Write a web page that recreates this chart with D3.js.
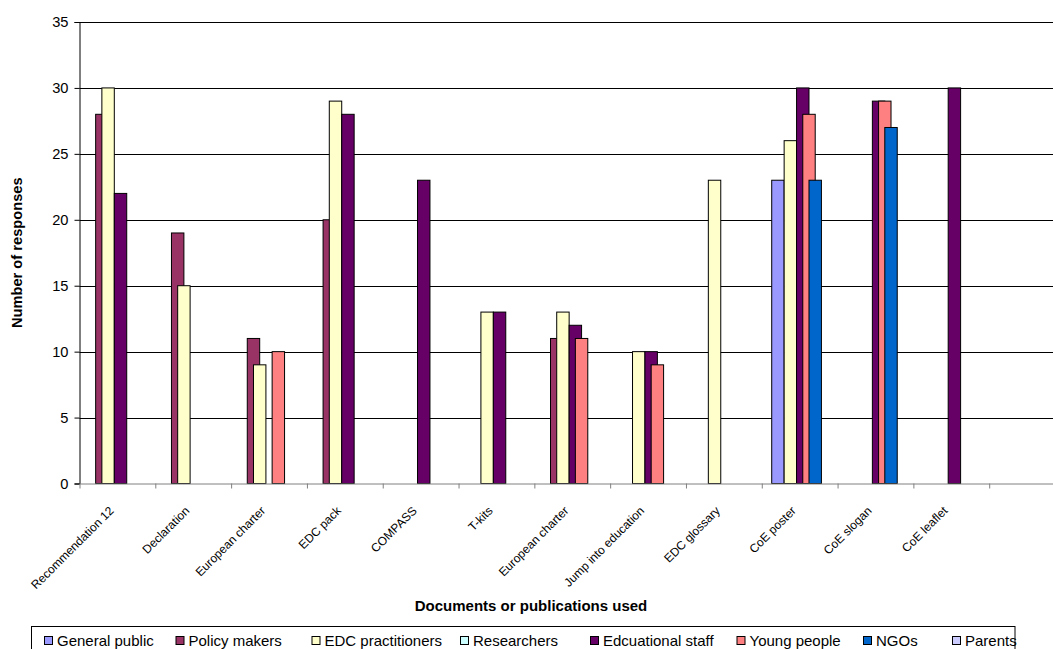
<!DOCTYPE html>
<html><head><meta charset="utf-8">
<script src="https://cdn.jsdelivr.net/npm/d3@7"></script>
<style>body{margin:0;background:#fff} svg{display:block;font-family:"Liberation Sans",Arial,sans-serif}</style>
</head><body><svg id="c" width="1053" height="649"></svg>
<script>
const categories = ["Recommendation 12","Declaration","European charter","EDC pack","COMPASS","T-kits","European charter","Jump into education","EDC glossary","CoE poster","CoE slogan","CoE leaflet",""];
const seriesNames = ["General public","Policy makers","EDC practitioners","Researchers","Edcuational staff","Young people","NGOs","Parents"];
const seriesColors = ["#9999FF","#993366","#FFFFCC","#CCFFFF","#660066","#FF8080","#0066CC","#CCCCFF"];
const generalPublic    = [null,null,null,null,null,null,null,null,null,23,null,null,null];
const policyMakers     = [28,19,11,20,null,null,11,null,null,null,null,null,null];
const edcPractitioners = [30,15,9,29,null,13,13,10,23,26,null,null,null];
const researchers      = [null,null,null,null,null,null,null,null,null,null,null,null,null];
const educationalStaff = [22,null,null,28,23,13,12,10,null,30,29,30,null];
const youngPeople      = [null,null,10,null,null,null,11,9,null,28,29,null,null];
const ngos             = [null,null,null,null,null,null,null,null,null,23,27,null,null];
const parents          = [null,null,null,null,null,null,null,null,null,null,null,null,null];
const yTicks = [0,5,10,15,20,25,30,35];
const yTitle = "Number of responses";
const xTitle = "Documents or publications used";

const seriesValues = [generalPublic,policyMakers,edcPractitioners,researchers,educationalStaff,youngPeople,ngos,parents];

const svg = d3.select("#c");
const pLeft = 79.5, pTop = 22, pBottom = 483.5, pRight = 1065;
const x = d3.scaleBand().domain(d3.range(categories.length)).range([pLeft, pRight]).padding(0);
const y = d3.scaleLinear().domain([0, 35]).range([pBottom, pTop]);

// gridlines
svg.append("g").selectAll("line").data(yTicks.filter(d => d > 0)).join("line")
  .attr("x1", pLeft).attr("x2", 1053).attr("y1", d => Math.round(y(d)) + 0.5).attr("y2", d => Math.round(y(d)) + 0.5)
  .attr("stroke", "#000").attr("stroke-width", 1);

// bars
const bw = x.bandwidth();
const barW = bw / 6.1;
const step = barW / 2;
const gap = 1.6 * barW;
const barData = [];
seriesValues.forEach((vals, s) => vals.forEach((v, i) => { if (v != null) barData.push({s, i, v}); }));
svg.append("g").selectAll("rect").data(barData).join("rect")
  .attr("x", d => x(d.i) + gap / 2 + d.s * step)
  .attr("y", d => y(d.v))
  .attr("width", barW)
  .attr("height", d => y(0) - y(d.v))
  .attr("fill", d => seriesColors[d.s])
  .attr("stroke", "#000").attr("stroke-width", 1);

// y axis
const yAxis = svg.append("g").attr("transform", `translate(${pLeft},0)`)
  .call(d3.axisLeft(y).tickValues(yTicks).tickSize(5).tickPadding(6).tickFormat(d3.format("d")));
yAxis.select(".domain").attr("stroke", "#000");
yAxis.selectAll(".tick line").attr("stroke", "#000");
yAxis.selectAll("text").attr("font-size", "14.67px").attr("fill", "#000").attr("font-family", "Liberation Sans, Arial, sans-serif");

// x axis
const xAxis = svg.append("g").attr("transform", `translate(0,${pBottom})`)
  .call(d3.axisBottom(x).tickValues([]).tickSizeOuter(0));
xAxis.select(".domain").attr("stroke", "#808080");
svg.append("g").selectAll("line").data(d3.range(categories.length)).join("line")
  .attr("x1", d => x(d) + 0.5).attr("x2", d => x(d) + 0.5).attr("y1", pBottom).attr("y2", pBottom + 5)
  .attr("stroke", "#808080");

// x labels
svg.append("g").selectAll("text").data(categories.map((c, i) => ({c, i}))).join("text")
  .attr("transform", d => `translate(${x(d.i) + bw / 2 - 3},${pBottom + 28}) rotate(-45)`)
  .attr("text-anchor", "end").attr("font-size", "12px").attr("fill", "#000")
  .text(d => d.c);

// titles
svg.append("text").attr("transform", `translate(22,${(pTop + pBottom) / 2}) rotate(-90)`)
  .attr("text-anchor", "middle").attr("font-weight", "bold").attr("font-size", "14.67px").text(yTitle);
svg.append("text").attr("x", 531).attr("y", 611)
  .attr("text-anchor", "middle").attr("font-weight", "bold").attr("font-size", "15px").text(xTitle);

// legend
const legendX = [44, 175.5, 311.5, 460, 590, 736.5, 863, 952];
svg.append("rect").attr("x", 31.5).attr("y", 626.5).attr("width", 983.5).attr("height", 40)
  .attr("fill", "#fff").attr("stroke", "#000");
const lg = svg.append("g").selectAll("g").data(seriesNames.map((n, i) => ({n, i}))).join("g")
  .attr("transform", d => `translate(${legendX[d.i]},0)`);
lg.append("rect").attr("x", 0.5).attr("y", 636.5).attr("width", 8).attr("height", 8)
  .attr("fill", d => seriesColors[d.i]).attr("stroke", "#000");
lg.append("text").attr("x", 13).attr("y", 645.5).attr("font-size", "15px").attr("fill", "#000").text(d => d.n);
</script></body></html>
